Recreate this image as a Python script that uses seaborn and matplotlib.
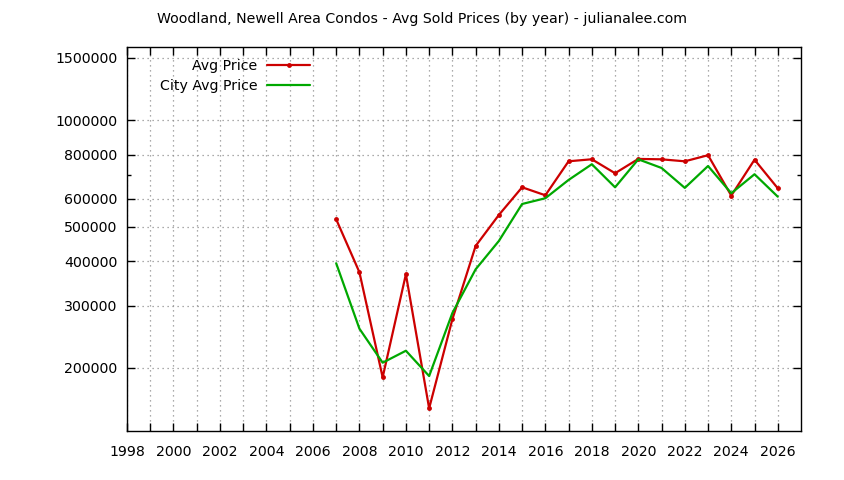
import numpy as np
import pandas as pd
import seaborn as sns
import matplotlib.pyplot as plt
from matplotlib.ticker import FixedLocator, NullFormatter

years = list(range(2007, 2027))
avg_price = [525600, 372600, 188200, 367700, 153900, 274500, 441900, 540600,
             647100, 614300, 766200, 776300, 708900, 778000, 776000, 766000,
             797000, 613000, 774000, 643000]
city_avg_price = [395000, 258200, 207000, 223700, 189800, 285900, 379700, 456500,
                  580500, 602600, 678700, 751600, 647000, 776000, 733600, 644500,
                  743000, 622500, 704300, 608800]
ytick_vals = [200000, 300000, 400000, 500000, 600000, 800000, 1000000, 1500000]
xtick_vals = list(range(1998, 2027, 2))

df = pd.DataFrame({"year": years, "Avg Price": avg_price,
                   "City Avg Price": city_avg_price})

sns.set_style("ticks")
plt.rcParams['font.family'] = ['DejaVu Sans']
plt.rcParams['text.color'] = 'black'
plt.rcParams['xtick.color'] = 'black'
plt.rcParams['ytick.color'] = 'black'

fig = plt.figure(figsize=(8.44, 4.8), dpi=100)
ax = fig.add_axes([127 / 844, 1 - 431 / 480, 674 / 844, 384 / 480])

sns.lineplot(data=df, x="year", y="Avg Price", ax=ax, color="#cc0000",
             linewidth=1.6, marker="o", markersize=3.5, markeredgewidth=0,
             label="Avg Price")
sns.lineplot(data=df, x="year", y="City Avg Price", ax=ax, color="#00a800",
             linewidth=1.6, label="City Avg Price")

ax.set_yscale("log")
ax.set_ylim(132800, 1610000)
ax.set_xlim(1998, 2027)

ax.yaxis.set_major_locator(FixedLocator(ytick_vals))
ax.yaxis.set_major_formatter(plt.FixedFormatter([str(v) for v in ytick_vals]))
ax.yaxis.set_minor_locator(FixedLocator([700000]))
ax.yaxis.set_minor_formatter(NullFormatter())

ax.xaxis.set_major_locator(FixedLocator(xtick_vals))
ax.xaxis.set_minor_locator(FixedLocator(list(range(1999, 2027, 2))))

ax.tick_params(which="both", direction="in", top=True, right=True,
               labelsize=10.2, color="black", labelcolor="black", width=1)
ax.tick_params(which="major", length=6)
ax.tick_params(axis="x", which="major", pad=10)
ax.tick_params(axis="y", which="major", pad=7)
ax.tick_params(which="minor", length=6)
ax.tick_params(axis="y", which="minor", length=3)

ax.grid(True, which="major", color="#909090", linestyle=(0, (1, 3)), linewidth=0.9)
ax.grid(True, which="minor", axis="x", color="#909090", linestyle=(0, (1, 3)), linewidth=0.9)

for s in ax.spines.values():
    s.set_color("black")
    s.set_linewidth(1)

ax.set_xlabel("")
ax.set_ylabel("")
fig.text(0.5, 1 - 19 / 480,
         "Woodland, Newell Area Condos - Avg Sold Prices (by year) - julianalee.com",
         fontsize=10.2, ha="center", va="center", color="black")

leg = ax.legend(loc="upper left", bbox_to_anchor=(0.034, 0.995), frameon=False,
                markerfirst=False, fontsize=10.2, handlelength=3.0,
                handletextpad=0.7, labelspacing=0.45, borderaxespad=0.3)
for t in leg.get_texts():
    t.set_ha("right")
    t.set_color("black")
leg._legend_box.align = "right"

fig.savefig("out.png", dpi=100)
